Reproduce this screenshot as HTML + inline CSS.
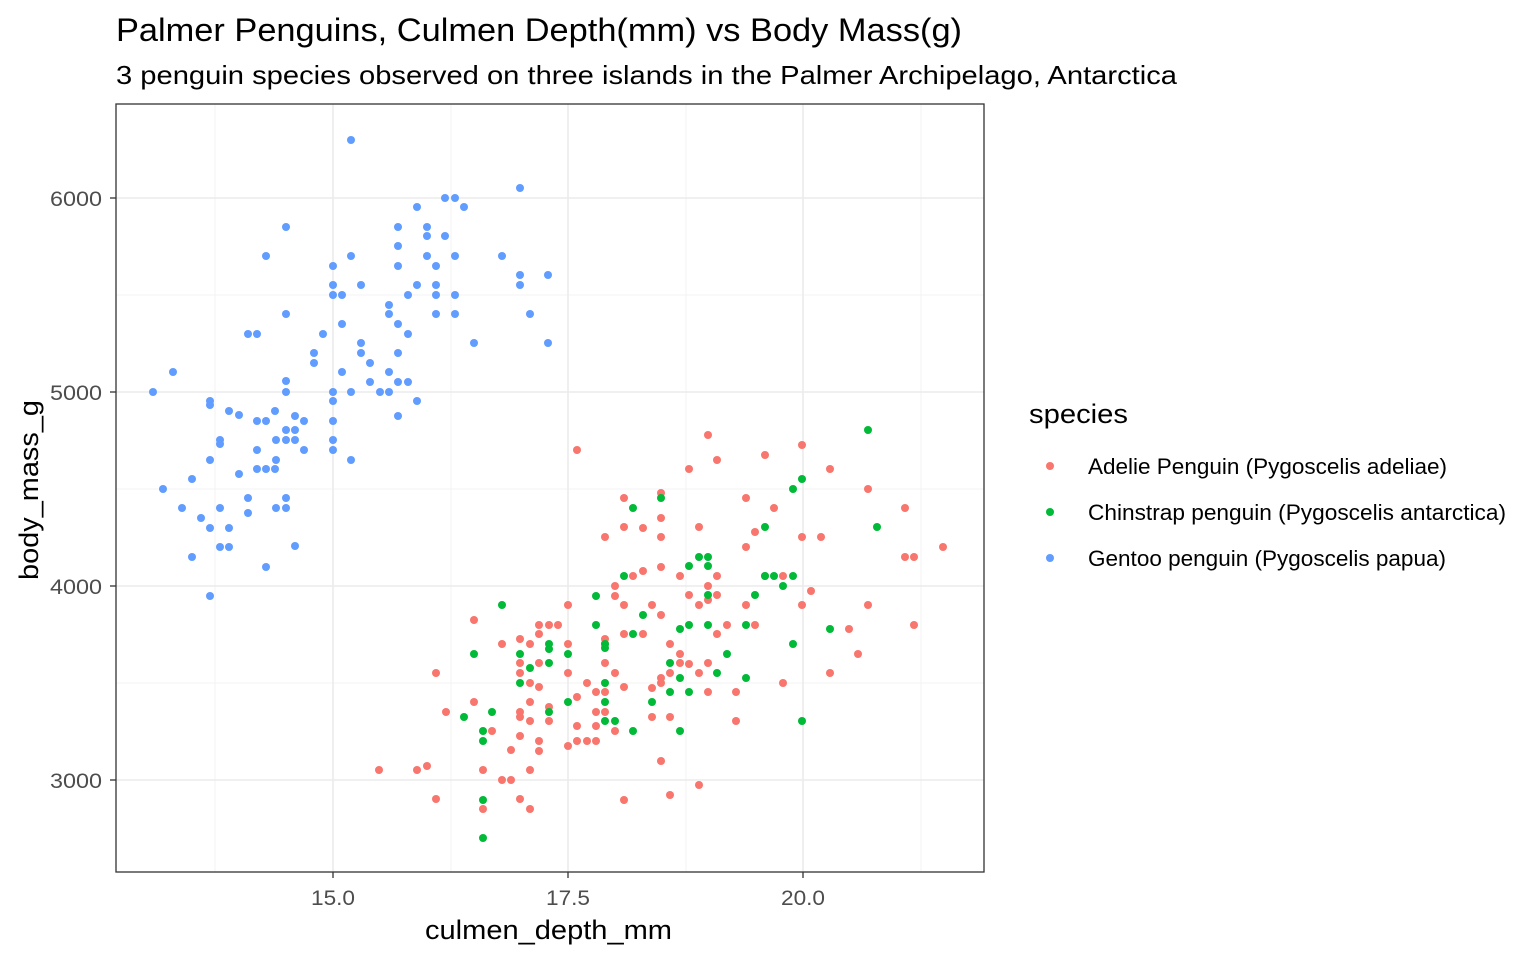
<!DOCTYPE html>
<html><head><meta charset="utf-8"><style>
body{margin:0;background:#fff;}
svg text{font-family:"Liberation Sans",Arial,sans-serif;}
</style></head><body>
<svg id="s" width="1536" height="960" xmlns="http://www.w3.org/2000/svg">
<rect width="1536" height="960" fill="#fff"/>
<text x="116" y="41" font-size="32" fill="#000" textLength="846" lengthAdjust="spacingAndGlyphs">Palmer Penguins, Culmen Depth(mm) vs Body Mass(g)</text>
<text x="116" y="84" font-size="26" fill="#000" textLength="1061" lengthAdjust="spacingAndGlyphs">3 penguin species observed on three islands in the Palmer Archipelago, Antarctica</text>
<g stroke="#f5f5f5" stroke-width="1.2">
<line x1="215" y1="104" x2="215" y2="872"/><line x1="451" y1="104" x2="451" y2="872"/><line x1="686" y1="104" x2="686" y2="872"/><line x1="921" y1="104" x2="921" y2="872"/>
<line x1="116" y1="683" x2="984" y2="683"/><line x1="116" y1="489" x2="984" y2="489"/><line x1="116" y1="295" x2="984" y2="295"/>
</g>
<g stroke="#ebebeb" stroke-width="1.6">
<line x1="333" y1="104" x2="333" y2="872"/><line x1="568" y1="104" x2="568" y2="872"/><line x1="803" y1="104" x2="803" y2="872"/>
<line x1="116" y1="780" x2="984" y2="780"/><line x1="116" y1="586" x2="984" y2="586"/><line x1="116" y1="392" x2="984" y2="392"/><line x1="116" y1="198" x2="984" y2="198"/>
</g>
<g id="pts"></g>
<rect x="116" y="104" width="868" height="768" fill="none" stroke="#333" stroke-width="1.3"/>
<g stroke="#333" stroke-width="1.3">
<line x1="333" y1="872" x2="333" y2="878"/><line x1="568" y1="872" x2="568" y2="878"/><line x1="803" y1="872" x2="803" y2="878"/>
<line x1="110" y1="780" x2="116" y2="780"/><line x1="110" y1="586" x2="116" y2="586"/><line x1="110" y1="392" x2="116" y2="392"/><line x1="110" y1="198" x2="116" y2="198"/>
</g>
<g font-size="21" fill="#4d4d4d">
<text x="333" y="905" text-anchor="middle" textLength="44" lengthAdjust="spacingAndGlyphs">15.0</text><text x="568" y="905" text-anchor="middle" textLength="44" lengthAdjust="spacingAndGlyphs">17.5</text><text x="803" y="905" text-anchor="middle" textLength="44" lengthAdjust="spacingAndGlyphs">20.0</text>
<text x="102" y="788" text-anchor="end" textLength="52" lengthAdjust="spacingAndGlyphs">3000</text><text x="102" y="594" text-anchor="end" textLength="52" lengthAdjust="spacingAndGlyphs">4000</text><text x="102" y="400" text-anchor="end" textLength="52" lengthAdjust="spacingAndGlyphs">5000</text><text x="102" y="206" text-anchor="end" textLength="52" lengthAdjust="spacingAndGlyphs">6000</text>
</g>
<text x="425" y="939" font-size="27" textLength="247" lengthAdjust="spacingAndGlyphs">culmen_depth_mm</text>
<text transform="translate(38,580) rotate(-90)" font-size="27" textLength="180" lengthAdjust="spacingAndGlyphs">body_mass_g</text>
<text x="1029" y="423" font-size="27" textLength="99" lengthAdjust="spacingAndGlyphs">species</text>
<circle cx="1050" cy="466" r="4" fill="#F8766D"/><circle cx="1050" cy="512" r="4" fill="#00BA38"/><circle cx="1050" cy="558" r="4" fill="#619CFF"/>
<g font-size="22"><text x="1088" y="474" textLength="359" lengthAdjust="spacingAndGlyphs">Adelie Penguin (Pygoscelis adeliae)</text><text x="1088" y="520" textLength="418" lengthAdjust="spacingAndGlyphs">Chinstrap penguin (Pygoscelis antarctica)</text><text x="1088" y="566" textLength="358" lengthAdjust="spacingAndGlyphs">Gentoo penguin (Pygoscelis papua)</text></g>
</svg>
<script>
var B=[[153,392],[163,489],[173,372],[182,508],[192,479],[192,557],[201,518],[210,401],[210,405],[210,460],[210,528],[210,596],[220,440],[220,444],[220,508],[220,547],[229,411],[229,528],[229,547],[239,415],[239,474],[248,498],[248,513],[248,334],[257,334],[257,421],[257,450],[257,469],[266,256],[266,421],[266,469],[266,567],[275,411],[275,469],[276,440],[276,460],[276,508],[286,381],[286,392],[286,430],[286,440],[286,498],[286,508],[286,314],[286,227],[295,416],[295,430],[295,440],[295,546],[304,421],[304,450],[314,353],[314,363],[323,334],[333,266],[333,285],[333,295],[333,392],[333,401],[333,421],[333,440],[333,450],[342,295],[342,324],[342,372],[351,140],[351,256],[351,392],[351,460],[361,343],[361,353],[361,285],[370,363],[370,382],[380,392],[389,314],[389,372],[389,305],[389,392],[398,227],[398,246],[398,266],[398,324],[398,353],[398,382],[398,416],[408,295],[408,334],[408,382],[417,285],[417,207],[417,401],[427,227],[427,236],[427,256],[436,266],[436,285],[436,295],[436,314],[445,198],[445,236],[455,198],[455,256],[455,295],[455,314],[464,207],[474,343],[502,256],[520,188],[520,275],[520,285],[530,314],[548,275],[548,343]];
var R=[[379,770],[417,770],[427,766],[436,673],[436,799],[446,712],[474,620],[474,702],[483,809],[483,770],[492,731],[502,780],[502,644],[511,780],[511,750],[520,673],[520,663],[520,712],[520,717],[520,736],[520,799],[520,639],[530,809],[530,770],[530,721],[530,702],[530,683],[530,644],[539,625],[539,634],[539,663],[539,687],[539,741],[539,751],[549,625],[549,707],[549,721],[558,625],[568,605],[568,644],[568,673],[568,746],[577,450],[577,697],[577,726],[577,741],[587,683],[587,741],[596,692],[596,712],[596,726],[596,741],[605,537],[605,639],[605,644],[605,663],[605,692],[605,712],[615,586],[615,596],[615,673],[615,731],[624,498],[624,527],[624,605],[624,634],[624,687],[624,800],[633,576],[643,528],[643,571],[643,634],[652,605],[652,688],[652,717],[661,493],[661,518],[661,537],[661,567],[661,615],[661,678],[661,683],[661,761],[670,644],[670,673],[670,717],[670,795],[680,576],[680,654],[680,663],[689,469],[689,595],[689,664],[699,527],[699,605],[699,673],[699,785],[708,435],[708,586],[708,600],[708,663],[708,692],[717,460],[717,576],[717,595],[717,634],[727,625],[736,692],[736,721],[746,498],[746,547],[746,605],[755,532],[755,625],[765,455],[765,576],[774,508],[783,683],[783,576],[802,445],[802,537],[802,605],[811,591],[821,537],[830,469],[830,673],[849,629],[858,654],[868,489],[868,605],[905,508],[905,557],[914,557],[914,625],[943,547]];
var G=[[464,717],[474,654],[483,731],[483,741],[483,800],[483,838],[492,712],[502,605],[520,654],[520,683],[530,668],[549,644],[549,649],[549,663],[549,712],[568,654],[568,702],[596,596],[596,625],[605,644],[605,648],[605,683],[605,702],[605,721],[615,721],[624,576],[633,508],[633,634],[633,731],[643,615],[652,702],[661,498],[670,663],[670,692],[680,678],[680,629],[680,731],[689,625],[689,566],[689,692],[699,557],[708,557],[708,566],[708,595],[708,625],[717,673],[727,654],[746,625],[746,678],[755,595],[765,527],[765,576],[774,576],[783,586],[793,576],[793,489],[793,644],[802,479],[802,721],[830,629],[868,430],[877,527]];
var g=document.getElementById('pts'),h='';
function add(a,c){a.forEach(function(p){h+='<circle cx="'+p[0]+'" cy="'+p[1]+'" r="4" fill="'+c+'"/>';});}
add(R,'#F8766D');add(G,'#00BA38');add(B,'#619CFF');
g.innerHTML=h;
</script>
</body></html>
